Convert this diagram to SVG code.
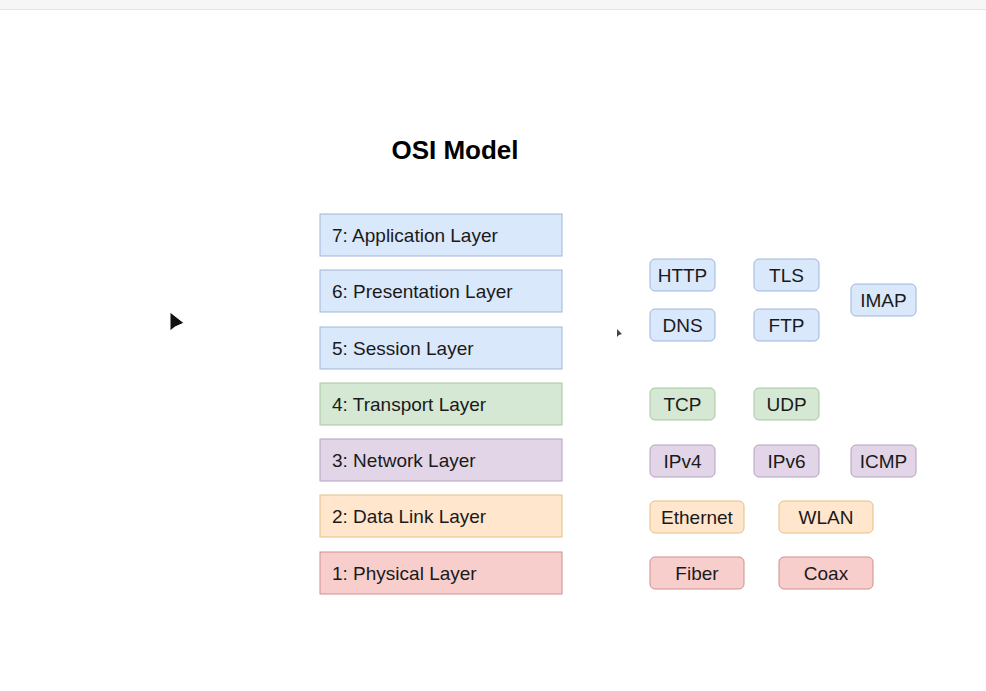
<svg xmlns="http://www.w3.org/2000/svg" width="986" height="691" viewBox="0 0 986 691">
<style>
  .t { font-family: "Liberation Sans", Arial, sans-serif; font-size: 19px; fill: #1a1a1a; }
  .c { text-anchor: middle; }
  .blue { fill: #dae8fc; stroke: #9fb6d8; stroke-width: 1; }
  .green { fill: #d5e8d4; stroke: #a6c79d; stroke-width: 1; }
  .purple { fill: #e1d5e7; stroke: #b4a0c0; stroke-width: 1; }
  .orange { fill: #ffe6cc; stroke: #e5bf85; stroke-width: 1; }
  .red { fill: #f8cecc; stroke: #cf8f8c; stroke-width: 1; }
</style>
<rect x="0" y="0" width="986" height="691" fill="#ffffff"/>
<rect x="0" y="0" width="986" height="9" fill="#f6f6f6"/>
<line x1="0" y1="9.5" x2="986" y2="9.5" stroke="#e6e6e6"/>
<polygon points="170,312 170,331 175,327 184,323" fill="#111" stroke="#fff" stroke-width="1"/>
<polygon points="617,329 617,337 619,335 622,334" fill="#444"/>
<text x="455" y="159" class="t c" style="font-size:26px;font-weight:bold;fill:#000">OSI Model</text>

<g id="layer7"><rect x="320" y="214" width="242" height="42" class="blue"/><text x="332" y="242" class="t">7: Application Layer</text></g>
<g id="layer6"><rect x="320" y="270" width="242" height="42" class="blue"/><text x="332" y="298" class="t">6: Presentation Layer</text></g>
<g id="layer5"><rect x="320" y="327" width="242" height="42" class="blue"/><text x="332" y="355" class="t">5: Session Layer</text></g>
<g id="layer4"><rect x="320" y="383" width="242" height="42" class="green"/><text x="332" y="411" class="t">4: Transport Layer</text></g>
<g id="layer3"><rect x="320" y="439" width="242" height="42" class="purple"/><text x="332" y="467" class="t">3: Network Layer</text></g>
<g id="layer2"><rect x="320" y="495" width="242" height="42" class="orange"/><text x="332" y="523" class="t">2: Data Link Layer</text></g>
<g id="layer1"><rect x="320" y="552" width="242" height="42" class="red"/><text x="332" y="580" class="t">1: Physical Layer</text></g>

<g id="http"><rect x="650" y="259" width="65" height="32" rx="5" class="blue"/><text x="682.5" y="282" class="t c">HTTP</text></g>
<g id="tls"><rect x="754" y="259" width="65" height="32" rx="5" class="blue"/><text x="786.5" y="282" class="t c">TLS</text></g>
<g id="imap"><rect x="851" y="284" width="65" height="32" rx="5" class="blue"/><text x="883.5" y="307" class="t c">IMAP</text></g>
<g id="dns"><rect x="650" y="309" width="65" height="32" rx="5" class="blue"/><text x="682.5" y="332" class="t c">DNS</text></g>
<g id="ftp"><rect x="754" y="309" width="65" height="32" rx="5" class="blue"/><text x="786.5" y="332" class="t c">FTP</text></g>
<g id="tcp"><rect x="650" y="388" width="65" height="32" rx="5" class="green"/><text x="682.5" y="411" class="t c">TCP</text></g>
<g id="udp"><rect x="754" y="388" width="65" height="32" rx="5" class="green"/><text x="786.5" y="411" class="t c">UDP</text></g>
<g id="ipv4"><rect x="650" y="445" width="65" height="32" rx="5" class="purple"/><text x="682.5" y="468" class="t c">IPv4</text></g>
<g id="ipv6"><rect x="754" y="445" width="65" height="32" rx="5" class="purple"/><text x="786.5" y="468" class="t c">IPv6</text></g>
<g id="icmp"><rect x="851" y="445" width="65" height="32" rx="5" class="purple"/><text x="883.5" y="468" class="t c">ICMP</text></g>
<g id="ethernet"><rect x="650" y="501" width="94" height="32" rx="5" class="orange"/><text x="697" y="524" class="t c">Ethernet</text></g>
<g id="wlan"><rect x="779" y="501" width="94" height="32" rx="5" class="orange"/><text x="826" y="524" class="t c">WLAN</text></g>
<g id="fiber"><rect x="650" y="557" width="94" height="32" rx="5" class="red"/><text x="697" y="580" class="t c">Fiber</text></g>
<g id="coax"><rect x="779" y="557" width="94" height="32" rx="5" class="red"/><text x="826" y="580" class="t c">Coax</text></g>
<g id="connectors"></g>
</svg>
